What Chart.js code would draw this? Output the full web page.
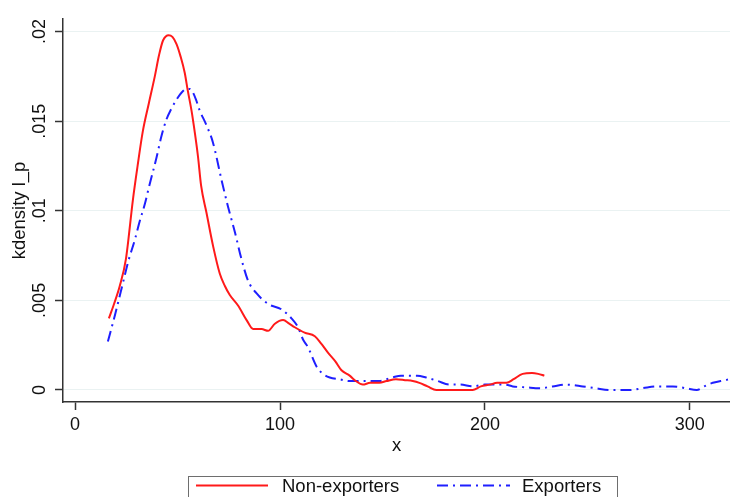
<!DOCTYPE html>
<html>
<head>
<meta charset="utf-8">
<script src="https://cdn.jsdelivr.net/npm/chart.js@4/dist/chart.umd.min.js"></script>
<style>
  html, body { margin: 0; padding: 0; background: #ffffff; }
  #wrap { width: 730px; height: 497px; position: relative; }
</style>
</head>
<body>
<div id="wrap"><canvas id="c" width="730" height="497"></canvas></div>
<script>
// ---- data ----
const nonExpX = [16.5, 19, 21.8, 24.8, 28.2, 30.5, 33, 36, 38.9, 41, 42.9, 45.7, 47.5, 49.5, 51.5, 53.5, 55, 56.8, 58.5, 60, 61.5, 64.1, 67.4, 70.6, 73.1, 75.5, 79.6, 83.7, 86.9, 91, 94.2, 97.5, 101.5, 104.5, 107.2, 112, 117, 120, 123.3, 127, 130, 134, 137, 140.4, 144, 148.5, 152, 156.6, 161, 164.8, 168, 172, 176.3, 185, 194, 198, 202.4, 206, 210.5, 214, 218.4, 223, 226, 229];
const nonExpY = [0.0040, 0.0048, 0.0058, 0.0073, 0.0106, 0.0125, 0.0144, 0.0160, 0.0175, 0.0187, 0.0195, 0.0198, 0.0197, 0.0193, 0.0186, 0.0177, 0.0167, 0.0156, 0.0143, 0.0130, 0.0114, 0.0099, 0.0080, 0.0065, 0.0058, 0.0053, 0.0047, 0.0039, 0.0034, 0.0034, 0.0033, 0.0037, 0.0039, 0.0037, 0.0035, 0.0032, 0.0030, 0.0026, 0.0021, 0.0016, 0.0011, 0.0008, 0.0005, 0.0003, 0.0004, 0.0004, 0.0005, 0.0006, 0.00055, 0.0005, 0.0004, 0.0002, 0.0000, 0.0000, 0.0000, 0.0002, 0.0003, 0.0004, 0.0004, 0.0006, 0.0009, 0.00095, 0.0009, 0.0008];

const expX = [16, 19.5, 23.4, 26, 29.2, 31.5, 34.1, 36, 39.8, 42, 44.6, 47, 49.5, 52, 54.4, 56, 57.5, 59, 60.8, 64, 67.3, 71.5, 74.7, 78, 81.2, 84.4, 88.5, 94.2, 100.7, 105.6, 108.8, 111.3, 113.6, 117.9, 121, 124.3, 129, 134, 141, 148.5, 152, 155, 159, 163, 167, 171.3, 177, 182.8, 188, 194, 200, 205.8, 210, 213.6, 220, 226.8, 233, 240, 247.8, 254, 261, 270.7, 277, 283.9, 291.7, 298, 303.4, 307, 311.2, 315, 319.5];
const expY = [0.0027, 0.0042, 0.0060, 0.0072, 0.0084, 0.0094, 0.0104, 0.0113, 0.0130, 0.0141, 0.0151, 0.0157, 0.0162, 0.0166, 0.0168, 0.0168, 0.0166, 0.0162, 0.0156, 0.0148, 0.0138, 0.0117, 0.0102, 0.0088, 0.0073, 0.0061, 0.0054, 0.0048, 0.0045, 0.0040, 0.0035, 0.0028, 0.0024, 0.0013, 0.0009, 0.0007, 0.0006, 0.0005, 0.0005, 0.0005, 0.0006, 0.0007, 0.0008, 0.0008, 0.0008, 0.0007, 0.0005, 0.0003, 0.0003, 0.0002, 0.0003, 0.0003, 0.0003, 0.0002, 0.00015, 0.0001, 0.0002, 0.0003, 0.0002, 0.0001, 0.0000, 0.0000, 0.0001, 0.0002, 0.0002, 0.0001, 0.0000, 0.0002, 0.0004, 0.0005, 0.0006];

const seriesLabels = ['Non-exporters', 'Exporters'];
const xTickValues = [0, 100, 200, 300];
const yTickValues = [0, 0.005, 0.01, 0.015, 0.02];
const yTickLabels = ['0', '.005', '.01', '.015', '.02'];
const xTitle = 'x';
const yTitle = 'kdensity l_p';

// ---- build chart ----
const toPts = (xs, ys) => xs.map((x, i) => ({ x: x, y: ys[i] }));
const FONT = '"Liberation Sans", Arial, sans-serif';
const RED = '#ff1a1a';
const BLUE = '#1f1fff';
const BLUE_DASH = [11, 5, 2, 5];

const legendPlugin = {
  id: 'boxLegend',
  afterDraw(chart) {
    const ctx = chart.ctx;
    const ds = chart.data.datasets;
    ctx.save();
    ctx.strokeStyle = '#6e6e6e';
    ctx.lineWidth = 1;
    ctx.strokeRect(188.5, 476.5, 429, 30);
    ctx.font = '18.5px ' + FONT;
    ctx.fillStyle = '#111';
    ctx.textBaseline = 'alphabetic';
    const items = [
      { x0: 196, x1: 268, tx: 282 },
      { x0: 437, x1: 510, tx: 522 }
    ];
    ds.forEach((d, i) => {
      const it = items[i];
      ctx.beginPath();
      ctx.strokeStyle = d.borderColor;
      ctx.lineWidth = 2;
      ctx.setLineDash(d.borderDash || []);
      ctx.moveTo(it.x0, 485.5);
      ctx.lineTo(it.x1, 485.5);
      ctx.stroke();
      ctx.setLineDash([]);
      ctx.fillText(d.label, it.tx, 492);
    });
    ctx.restore();
  }
};

new Chart(document.getElementById('c'), {
  type: 'scatter',
  data: {
    datasets: [
      {
        label: seriesLabels[0],
        data: toPts(nonExpX, nonExpY),
        showLine: true,
        borderColor: RED,
        borderWidth: 2,
        pointRadius: 0,
        cubicInterpolationMode: 'monotone',
        fill: false
      },
      {
        label: seriesLabels[1],
        data: toPts(expX, expY),
        showLine: true,
        borderColor: BLUE,
        borderWidth: 2,
        borderDash: BLUE_DASH,
        pointRadius: 0,
        cubicInterpolationMode: 'monotone',
        fill: false
      }
    ]
  },
  options: {
    responsive: false,
    animation: false,
    events: [],
    layout: { padding: { top: 19, right: 0, bottom: 30, left: 0 } },
    plugins: {
      legend: { display: false },
      tooltip: { enabled: false }
    },
    scales: {
      x: {
        type: 'linear',
        min: -5.9,
        max: 319.6,
        afterBuildTicks: (s) => { s.ticks = xTickValues.map(v => ({ value: v })); },
        afterFit: (s) => { s.height = 65; },
        ticks: {
          color: '#111',
          font: { family: FONT, size: 18 },
          padding: 4,
          maxRotation: 0,
          callback: (v) => String(v)
        },
        grid: {
          drawOnChartArea: false,
          drawTicks: true,
          tickLength: 8,
          tickColor: '#333',
          tickWidth: 1.5
        },
        border: { display: true, color: '#333', width: 1.5 },
        title: {
          display: true,
          text: xTitle,
          color: '#111',
          font: { family: FONT, size: 18.5 },
          padding: { top: 0, bottom: 10 }
        }
      },
      y: {
        type: 'linear',
        min: -0.00067,
        max: 0.0207,
        afterBuildTicks: (s) => { s.ticks = yTickValues.map(v => ({ value: v })); },
        afterFit: (s) => { s.width = 63; },
        ticks: {
          color: '#111',
          font: { family: FONT, size: 18 },
          padding: -3,
          minRotation: 90,
          maxRotation: 90,
          crossAlign: 'center',
          callback: (v) => { const i = yTickValues.indexOf(v); return i >= 0 ? yTickLabels[i] : ''; }
        },
        grid: {
          color: '#eaf2f2',
          lineWidth: 1,
          drawTicks: true,
          tickLength: 8,
          tickColor: '#333',
          tickWidth: 1.5
        },
        border: { display: true, color: '#333', width: 1.5 },
        title: {
          display: true,
          text: yTitle,
          color: '#111',
          font: { family: FONT, size: 18.5 },
          padding: { top: 9, bottom: 0 }
        }
      }
    }
  },
  plugins: [legendPlugin]
});
</script>
</body>
</html>
